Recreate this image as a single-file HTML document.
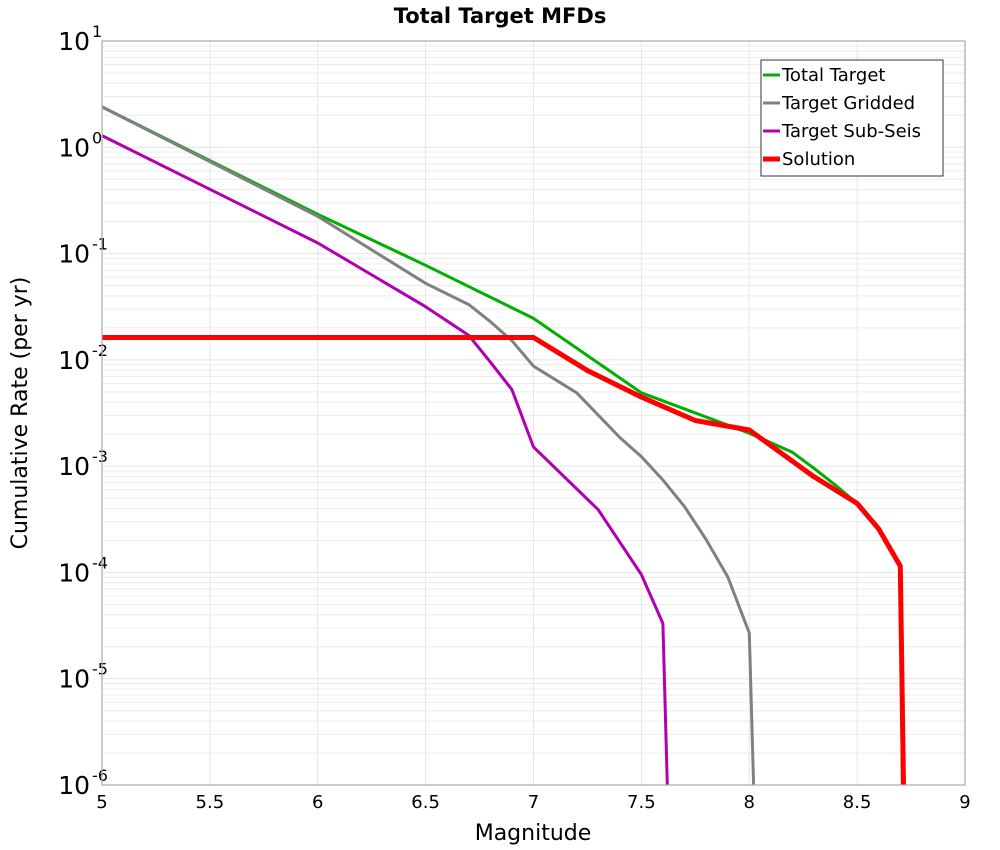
<!DOCTYPE html>
<html><head><meta charset="utf-8"><style>
body{margin:0;background:#fff}
svg{display:block;font-family:"DejaVu Sans","Liberation Sans",sans-serif}
</style></head><body>
<svg id="chart" width="1000" height="850" viewBox="0 0 1000 850">
<text x="500" y="23" text-anchor="middle" font-size="21" font-weight="bold">Total Target MFDs</text>
<g id="grid"></g>
<g id="axes"></g>
<g id="series"></g>
<rect x="102" y="41" width="863" height="744" fill="none" stroke="#aaa" stroke-width="1.2"/>
<text x="533" y="840" text-anchor="middle" font-size="22">Magnitude</text>
<text transform="translate(27,413) rotate(-90)" text-anchor="middle" font-size="22">Cumulative Rate (per yr)</text>
<g>
<rect x="761" y="60" width="182" height="116" fill="#fff" stroke="#333" stroke-width="1"/>
<g><line x1="763" y1="75" x2="780" y2="75" stroke="#00b000" stroke-width="3"/><text x="782" y="81" font-size="18">Total Target</text></g>
<g><line x1="763" y1="103" x2="780" y2="103" stroke="#808080" stroke-width="3"/><text x="782" y="109" font-size="18">Target Gridded</text></g>
<g><line x1="763" y1="131" x2="780" y2="131" stroke="#b000b0" stroke-width="3"/><text x="782" y="137" font-size="18">Target Sub-Seis</text></g>
<g><line x1="763" y1="159" x2="780" y2="159" stroke="#ff0000" stroke-width="5"/><text x="782" y="165" font-size="18">Solution</text></g>
</g>
</svg>
<script>
const xTicks=[5,5.5,6,6.5,7,7.5,8,8.5,9];
const yDecades=[1,0,-1,-2,-3,-4,-5,-6];
const totalMag=[5,6,6.5,7,7.5,8,8.2,8.3,8.4,8.5,8.6,8.7,8.71];
const totalLog=[0.38,-0.63,-1.11,-1.61,-2.31,-2.69,-2.87,-3.02,-3.18,-3.35,-3.58,-3.94,-6];
const griddedMag=[5,6,6.5,6.7,6.8,6.9,7.0,7.2,7.3,7.4,7.5,7.6,7.7,7.8,7.9,8.0,8.02];
const griddedLog=[0.38,-0.65,-1.28,-1.48,-1.64,-1.82,-2.06,-2.31,-2.52,-2.73,-2.91,-3.13,-3.38,-3.69,-4.04,-4.57,-6];
const subMag=[5,6,6.5,6.7,6.8,6.9,7.0,7.3,7.5,7.6,7.62];
const subLog=[0.11,-0.9,-1.5,-1.77,-2.02,-2.28,-2.82,-3.41,-4.02,-4.48,-6];
const solMag=[5,7,7.25,7.5,7.75,8,8.3,8.5,8.6,8.7,8.715];
const solLog=[-1.79,-1.79,-2.1,-2.35,-2.57,-2.66,-3.1,-3.35,-3.59,-3.94,-6];
const X=m=>102+(m-5)*215.75;
const Y=l=>41+(1-l)*106.29;
const NS="http://www.w3.org/2000/svg";
const grid=document.getElementById('grid'),axes=document.getElementById('axes'),ser=document.getElementById('series');
function mk(t,a,p){const e=document.createElementNS(NS,t);for(const k in a)e.setAttribute(k,a[k]);p.appendChild(e);return e;}
for(let i=0;i<yDecades.length-1;i++){for(let k=2;k<=9;k++){const y=Y(yDecades[i+1]+Math.log10(k));
const l=mk('line',{x1:102,x2:965,y1:y,y2:y,stroke:'#ececec','stroke-width':1},grid);

}}
yDecades.forEach(d=>{const y=Y(d);
const l=mk('line',{x1:102,x2:965,y1:y,y2:y,stroke:'#e4e4e4','stroke-width':1},grid);


const t=mk('text',{x:90,y:y+9,'text-anchor':'end','font-size':25},axes);


t.textContent='10';
const s=mk('text',{x:92,y:y-4,'font-size':16},axes);


s.textContent=String(d).replace('-','-');});
xTicks.forEach(m=>{const x=X(m);
const l=mk('line',{x1:x,x2:x,y1:41,y2:785,stroke:'#e6e6e6','stroke-width':1},grid);


const t=mk('text',{x:x,y:808,'text-anchor':'middle','font-size':18},axes);


t.textContent=String(m);});
function line(ms,ls,col,w,name){const pts=ms.map((m,i)=>X(m).toFixed(1)+','+Math.min(Y(ls[i]),786).toFixed(1)).join(' ');
const p=mk('polyline',{points:pts,fill:'none',stroke:col,'stroke-width':w,'stroke-linejoin':'round'},ser);

}
line(totalMag,totalLog,'#00b000',3,'total-target-line');
line(griddedMag,griddedLog,'#808080',3,'target-gridded-line');
line(subMag,subLog,'#b000b0',3,'target-sub-seis-line');
line(solMag,solLog,'#ff0000',5,'solution-line');
</script>
</body></html>
